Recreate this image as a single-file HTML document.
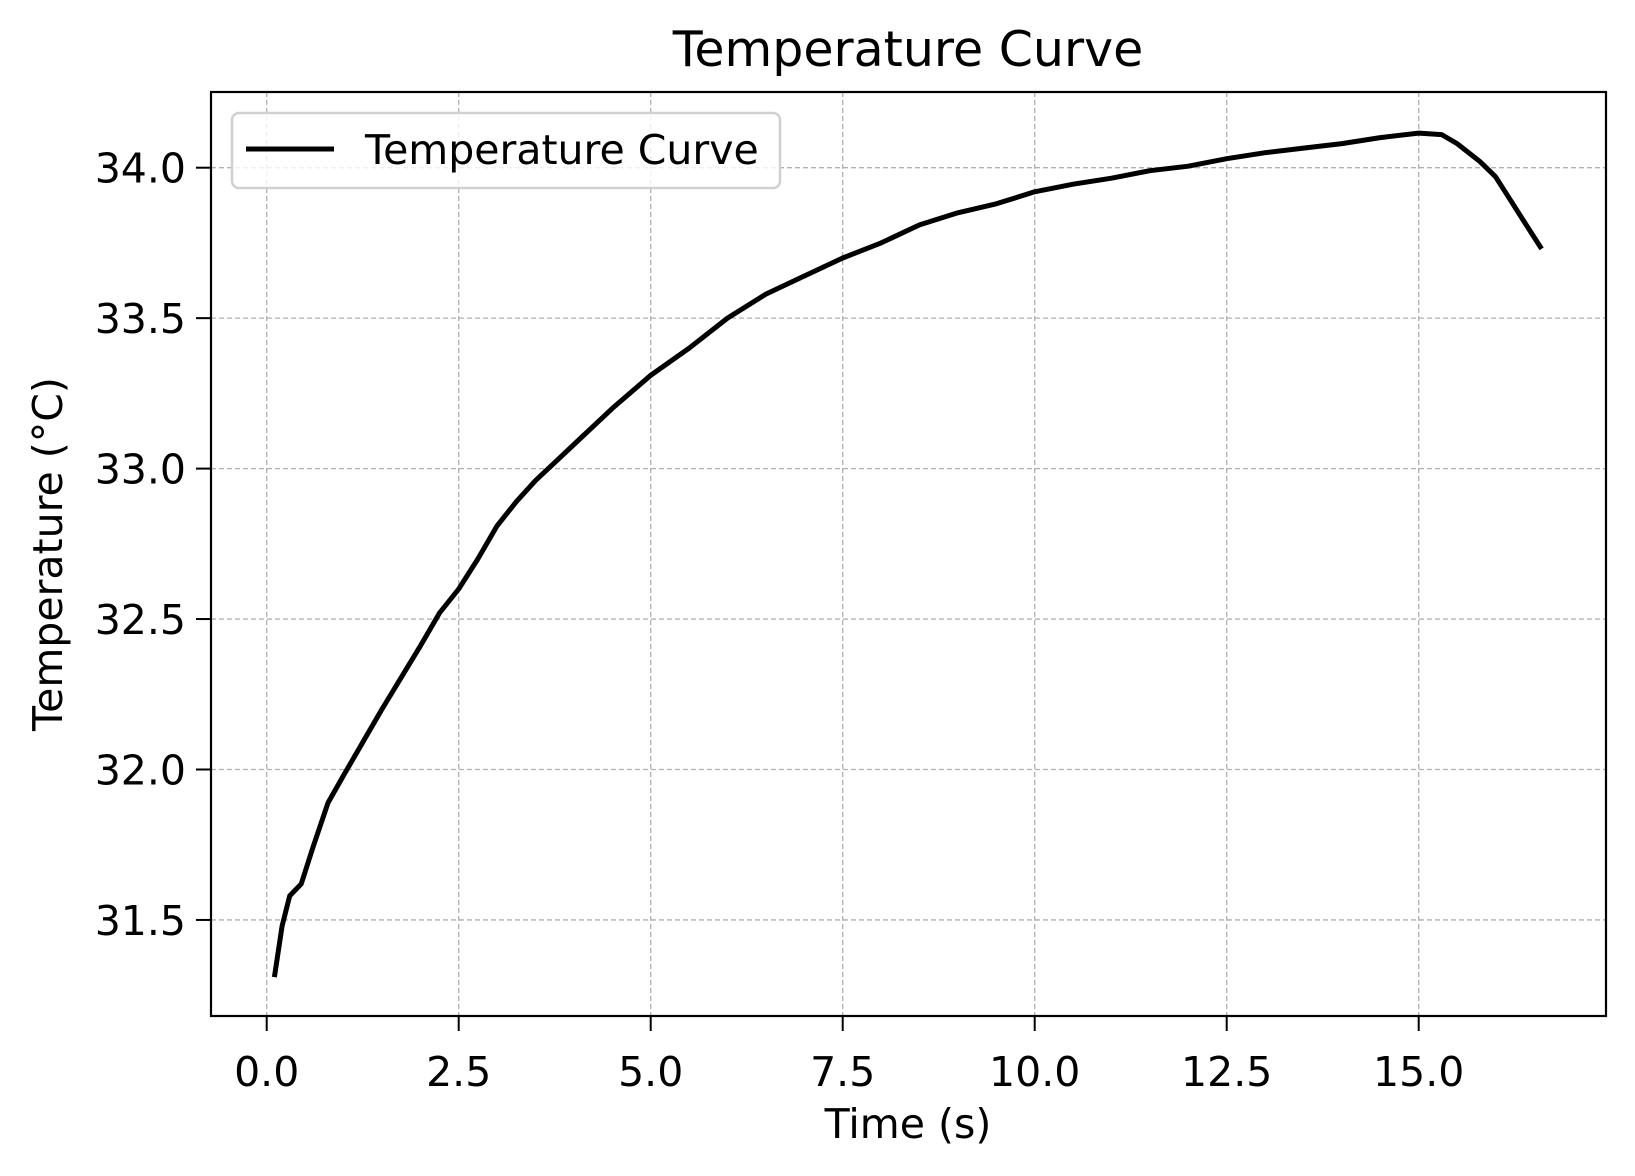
<!DOCTYPE html>
<html><head><meta charset="utf-8"><style>
html,body{margin:0;padding:0;background:#fff;}
svg{display:block;font-family:"DejaVu Sans","Liberation Sans",sans-serif;}
</style></head><body>
<svg id="chart" width="1635" height="1176" viewBox="0 0 1635 1176" xmlns="http://www.w3.org/2000/svg">
<rect width="1635" height="1176" fill="#fff"/>
<g id="grid"></g>
<g id="ticks"></g>
<path id="line" fill="none" stroke="#000" stroke-width="5" stroke-linejoin="round"/>
<rect x="211" y="92" width="1395" height="924" fill="none" stroke="#000" stroke-width="2.2"/>
<text x="908" y="66" font-size="49" text-anchor="middle">Temperature Curve</text>
<text x="908" y="1138" font-size="41" text-anchor="middle">Time (s)</text>
<text transform="translate(62,554) rotate(-90)" font-size="41" text-anchor="middle">Temperature (°C)</text>
<g>
<rect x="232" y="113" width="548" height="75" rx="7" fill="#fff" fill-opacity="0.8" stroke="#d0d0d0" stroke-width="2.5"/>
<line x1="246" y1="149" x2="334" y2="149" stroke="#000" stroke-width="5"/>
<text x="365" y="164" font-size="41">Temperature Curve</text>
</g>
</svg>
<script>
const times = [0.1,0.2,0.3,0.45,0.6,0.8,1.0,1.5,2.0,2.25,2.5,2.75,3.0,3.25,3.5,3.75,4.0,4.5,5.0,5.5,6.0,6.5,7.0,7.5,8.0,8.5,9.0,9.5,10.0,10.5,11.0,11.5,12.0,12.5,13.0,13.5,14.0,14.5,15.0,15.3,15.5,15.8,16.0,16.2,16.4,16.6];
const temps = [31.31,31.48,31.58,31.62,31.74,31.89,31.98,32.20,32.41,32.52,32.60,32.70,32.81,32.89,32.96,33.02,33.08,33.20,33.31,33.40,33.50,33.58,33.64,33.70,33.75,33.81,33.85,33.88,33.92,33.945,33.965,33.99,34.005,34.03,34.05,34.065,34.08,34.10,34.115,34.11,34.08,34.02,33.97,33.89,33.81,33.73];
const xTicks = [0,2.5,5,7.5,10,12.5,15];
const xTickLabels = ["0.0","2.5","5.0","7.5","10.0","12.5","15.0"];
const yTicks = [31.5,32,32.5,33,33.5,34];
const yTickLabels = ["31.5","32.0","32.5","33.0","33.5","34.0"];
const NS="http://www.w3.org/2000/svg";
const L=211,R=1606,T=92,B=1016;
function xs(v){return 266.7+v*76.8;}
function ys(v){return 167.7+(34-v)*300.9;}
const grid=document.getElementById('grid'), ticks=document.getElementById('ticks');
function mk(tag,attrs,parent){const e=document.createElementNS(NS,tag);for(const k in attrs)e.setAttribute(k,attrs[k]);parent.appendChild(e);return e;}
xTicks.forEach((v,i)=>{
  const x=xs(v);
  const g=mk('line',{x1:x,x2:x,y1:T,y2:B,stroke:'#b0b0b0','stroke-width':1.3,'stroke-dasharray':'5,3'},grid);
  
  
  const t=mk('line',{x1:x,x2:x,y1:B,y2:B+15,stroke:'#000','stroke-width':2},ticks);
  
  
  const l=mk('text',{x:x,y:1086,'font-size':41,'text-anchor':'middle'},ticks);
  l.textContent=xTickLabels[i];
  
  
});
yTicks.forEach((v,i)=>{
  const y=ys(v);
  const g=mk('line',{x1:L,x2:R,y1:y,y2:y,stroke:'#b0b0b0','stroke-width':1.3,'stroke-dasharray':'5,3'},grid);
  
  
  const t=mk('line',{x1:L-15,x2:L,y1:y,y2:y,stroke:'#000','stroke-width':2},ticks);
  
  
  const l=mk('text',{x:186,y:y+15,'font-size':41,'text-anchor':'end'},ticks);
  l.textContent=yTickLabels[i];
  
  
});
document.getElementById('line').setAttribute('d',times.map((t,i)=>(i?'L':'M')+xs(t).toFixed(1)+','+ys(temps[i]).toFixed(1)).join(''));
</script>
</body></html>
